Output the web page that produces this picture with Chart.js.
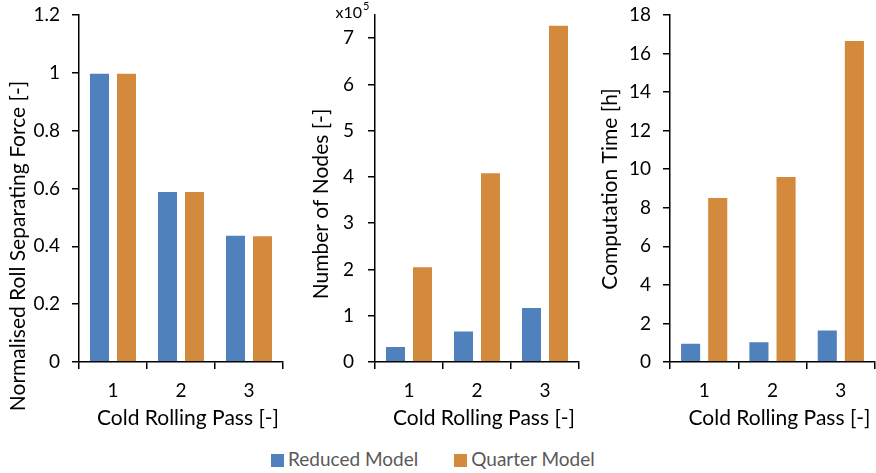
<!DOCTYPE html>
<html>
<head>
<meta charset="utf-8">
<script src="https://cdn.jsdelivr.net/npm/chart.js@4.4.1/dist/chart.umd.min.js"></script>
<style>
  body { margin: 0; background: #fff; }
  #wrap { position: relative; width: 876px; height: 473px; overflow: hidden; }
  #wrap canvas { position: absolute; top: 0; }
  #legend { position: absolute; left: 271px; top: 447px; font: 19px Lato, "Open Sans", sans-serif; color: #595959; white-space: nowrap; }
  #legend span.item { display: inline-block; margin-right: 36px; }
  #legend i { display: inline-block; width: 13px; height: 13px; margin-right: 4px; vertical-align: -1px; }
</style>
</head>
<body>
<div id="wrap">
  <canvas id="force" width="290" height="440" style="left:0"></canvas>
  <canvas id="nodes" width="290" height="440" style="left:290px"></canvas>
  <canvas id="time" width="296" height="440" style="left:580px"></canvas>
  <div id="legend"></div>
</div>
<script>
const FONT = 'Lato, "Open Sans", sans-serif';

// data
const passes = ['1', '2', '3'];
const seriesNames = ['Reduced Model', 'Quarter Model'];
const seriesColors = ['#4F81BD', '#D48A3C'];

const forceReduced = [1.0, 0.591, 0.44];
const forceQuarter = [1.0, 0.591, 0.438];

const nodesReduced = [34500, 68000, 119000];
const nodesQuarter = [207000, 410000, 729000];
const nodeTicks = [0, 1, 2, 3, 4, 5, 6, 7]; // in units of 10^5

const timeReduced = [1.0, 1.07, 1.68];
const timeQuarter = [8.56, 9.65, 16.7];

// draws the axis titles (and the x10^5 note) where Excel put them
const titlePlugin = {
  id: 'sideTitles',
  afterDraw(chart, args, opts) {
    const { ctx, chartArea } = chart;
    ctx.save();
    ctx.fillStyle = '#000';
    ctx.textAlign = 'center';
    ctx.textBaseline = 'middle';
    ctx.font = '21px ' + FONT;
    ctx.fillText(opts.xTitle, chartArea.left + (chartArea.right - chartArea.left) / 2 + 7, 418);
    ctx.translate(opts.yx, opts.yy);
    ctx.rotate(-Math.PI / 2);
    ctx.fillText(opts.yTitle, 0, 0);
    ctx.restore();
    if (opts.exponent) {
      ctx.save();
      ctx.fillStyle = '#000';
      ctx.textBaseline = 'alphabetic';
      ctx.textAlign = 'right';
      ctx.font = '16px ' + FONT;
      const x = chartArea.left - 13;
      ctx.fillText('x10', x, 18);
      ctx.textAlign = 'left';
      ctx.font = '11px ' + FONT;
      ctx.fillText(opts.exponent, x + 1, 10);
      ctx.restore();
    }
  }
};

function makeChart(id, reduced, quarter, yOpts, titles, axisLeft, padRight) {
  new Chart(document.getElementById(id), {
    type: 'bar',
    data: {
      labels: passes,
      datasets: [reduced, quarter].map((d, i) => ({
        label: seriesNames[i],
        data: d,
        backgroundColor: seriesColors[i],
        borderColor: 'rgba(255,255,255,0.45)',
        borderWidth: 1,
        categoryPercentage: 0.794,
        barPercentage: 0.778
      }))
    },
    options: {
      responsive: false,
      animation: false,
      layout: { padding: { top: 15, right: padRight, bottom: 0, left: 0 } },
      plugins: {
        legend: { display: false },
        tooltip: { enabled: false },
        sideTitles: titles
      },
      scales: {
        x: {
          grid: { drawOnChartArea: false, tickLength: 7, color: '#000', lineWidth: 1.5 },
          border: { color: '#000', width: 1.5 },
          ticks: { color: '#000', font: { family: FONT, size: 19 }, padding: 10 },
          afterFit: s => { s.height = 78; }
        },
        y: Object.assign({
          min: 0,
          grid: { drawOnChartArea: false, tickLength: 7, color: '#000', lineWidth: 1.5 },
          border: { color: '#000', width: 1.5 },
          afterFit: s => { s.width = axisLeft; s.paddingTop = 0; s.paddingBottom = 0; }
        }, yOpts)
      }
    },
    plugins: [titlePlugin]
  });
}

makeChart('force', forceReduced, forceQuarter, {
  max: 1.2,
  ticks: { stepSize: 0.2, color: '#000', padding: 12, font: { family: FONT, size: 19 },
    callback: v => String(+v.toFixed(1)) }
}, { xTitle: 'Cold Rolling Pass [-]', yTitle: 'Normalised Roll Separating Force [-]', yx: 18, yy: 246 }, 79, 7);

makeChart('nodes', nodesReduced, nodesQuarter, {
  max: 750000,
  ticks: { color: '#000', padding: 14, font: { family: FONT, size: 19 },
    callback: v => String(v / 100000) },
  afterBuildTicks: s => { s.ticks = nodeTicks.map(k => ({ value: k * 100000 })); }
}, { xTitle: 'Cold Rolling Pass [-]', yTitle: 'Number of Nodes [-]', yx: 31, yy: 204, exponent: '5' }, 85, 1);

makeChart('time', timeReduced, timeQuarter, {
  max: 18,
  ticks: { stepSize: 2, color: '#000', padding: 12, font: { family: FONT, size: 19 } }
}, { xTitle: 'Cold Rolling Pass [-]', yTitle: 'Computation Time [h]', yx: 30, yy: 189 }, 90, 1);

// shared legend under the three panels
const legend = document.getElementById('legend');
seriesNames.forEach((name, i) => {
  const item = document.createElement('span');
  item.className = 'item';
  const box = document.createElement('i');
  box.style.background = seriesColors[i];
  item.appendChild(box);
  item.appendChild(document.createTextNode(name));
  legend.appendChild(item);
});
</script>
</body>
</html>
